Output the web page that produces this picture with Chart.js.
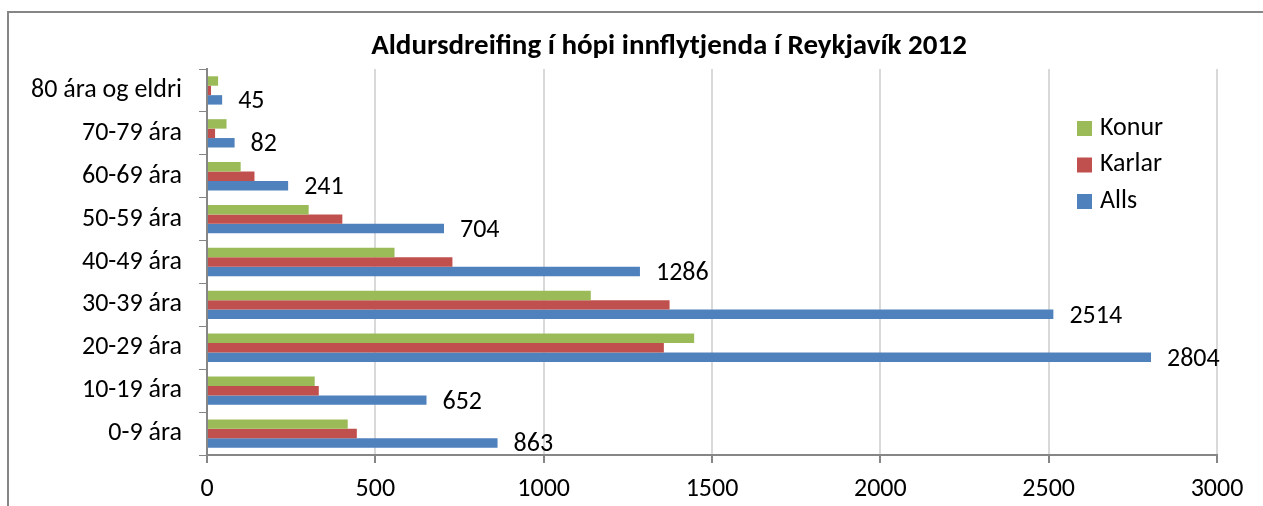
<!DOCTYPE html>
<html>
<head>
<meta charset="utf-8">
<script src="https://cdn.jsdelivr.net/npm/chart.js@4"></script>
<style>
  body { margin: 0; background: #fff; }
  canvas { display: block; }
</style>
</head>
<body>
<canvas id="ageChart" width="1263" height="506"></canvas>
<script>
// Aldursdreifing innflytjenda
const categories = ['80 ára og eldri', '70-79 ára', '60-69 ára', '50-59 ára', '40-49 ára',
                    '30-39 ára', '20-29 ára', '10-19 ára', '0-9 ára'];
const konur  = [33, 58, 100, 302, 557, 1140, 1447, 320, 418];
const karlar = [12, 24, 141, 402, 729, 1374, 1357, 332, 445];
const alls   = [45, 82, 241, 704, 1286, 2514, 2804, 652, 863];
const xTicks = [0, 500, 1000, 1500, 2000, 2500, 3000];
const chartTitle = 'Aldursdreifing í hópi innflytjenda í Reykjavík 2012';

const FONT = "Carlito, Lato, 'Open Sans', sans-serif";
const AXIS_GREY = '#868686';
const TEXT_SIZE = 26;

// outer frame + title
const framePlugin = {
    id: 'frame',
    beforeDraw(chart) {
        const c = chart.ctx;
        c.save();
        c.strokeStyle = AXIS_GREY;
        c.lineWidth = 2;
        c.beginPath();
        c.moveTo(8, chart.height);
        c.lineTo(8, 12);
        c.lineTo(chart.width, 12);
        c.stroke();
        c.font = 'bold 29px ' + FONT;
        c.fillStyle = '#000';
        c.textAlign = 'center';
        c.textBaseline = 'middle';
        c.fillText(chartTitle, 669, 47);
        c.restore();
    }
};

// value labels next to the "Alls" bars
const valueLabels = {
    id: 'valueLabels',
    afterDatasetsDraw(chart) {
        const c = chart.ctx;
        const meta = chart.getDatasetMeta(2);
        c.save();
        c.font = TEXT_SIZE + 'px ' + FONT;
        c.fillStyle = '#000';
        c.textAlign = 'left';
        c.textBaseline = 'middle';
        meta.data.forEach((bar, i) => {
            c.fillText(String(alls[i]), bar.x + 16, bar.y + 2);
        });
        c.restore();
    }
};

// legend drawn inside the plot area, top-right
const sideLegend = {
    id: 'sideLegend',
    afterDraw(chart) {
        const c = chart.ctx;
        const area = chart.chartArea;
        const x = area.right - 140;
        let y = area.top + 59;
        c.save();
        c.font = TEXT_SIZE + 'px ' + FONT;
        c.textBaseline = 'middle';
        c.textAlign = 'left';
        chart.data.datasets.forEach(ds => {
            c.fillStyle = ds.backgroundColor;
            c.fillRect(x, y - 7, 15, 15);
            c.fillStyle = '#000';
            c.fillText(ds.label, x + 23, y);
            y += 36.5;
        });
        c.restore();
    }
};

new Chart(document.getElementById('ageChart').getContext('2d'), {
    type: 'bar',
    data: {
        labels: categories,
        datasets: [
            { label: 'Konur',  data: konur,  backgroundColor: '#9BBB59' },
            { label: 'Karlar', data: karlar, backgroundColor: '#C0504D' },
            { label: 'Alls',   data: alls,   backgroundColor: '#4F81BD' }
        ]
    },
    options: {
        indexAxis: 'y',
        responsive: false,
        animation: false,
        categoryPercentage: 0.66,
        barPercentage: 1.0,
        layout: { padding: { left: 0, right: 46, top: 69, bottom: 0 } },
        plugins: {
            legend: { display: false },
            tooltip: { enabled: false },
            title: { display: false }
        },
        scales: {
            x: {
                min: 0,
                max: 3000,
                afterBuildTicks(scale) {
                    scale.ticks = xTicks.map(v => ({ value: v }));
                },
                afterFit(scale) { scale.height = 51; },
                grid: {
                    color: '#d9d9d9',
                    lineWidth: 2,
                    tickColor: AXIS_GREY,
                    tickLength: 8
                },
                border: { color: AXIS_GREY, width: 2 },
                ticks: {
                    color: '#000',
                    padding: 11,
                    maxRotation: 0,
                    callback: v => String(v),
                    font: { family: FONT, size: TEXT_SIZE }
                }
            },
            y: {
                afterFit(scale) { scale.width = 207; },
                grid: {
                    offset: true,
                    drawOnChartArea: false,
                    tickColor: AXIS_GREY,
                    tickLength: 8
                },
                border: { color: AXIS_GREY, width: 2 },
                ticks: {
                    color: '#000',
                    padding: 17,
                    font: { family: FONT, size: TEXT_SIZE }
                }
            }
        }
    },
    plugins: [framePlugin, valueLabels, sideLegend]
});
</script>
</body>
</html>
